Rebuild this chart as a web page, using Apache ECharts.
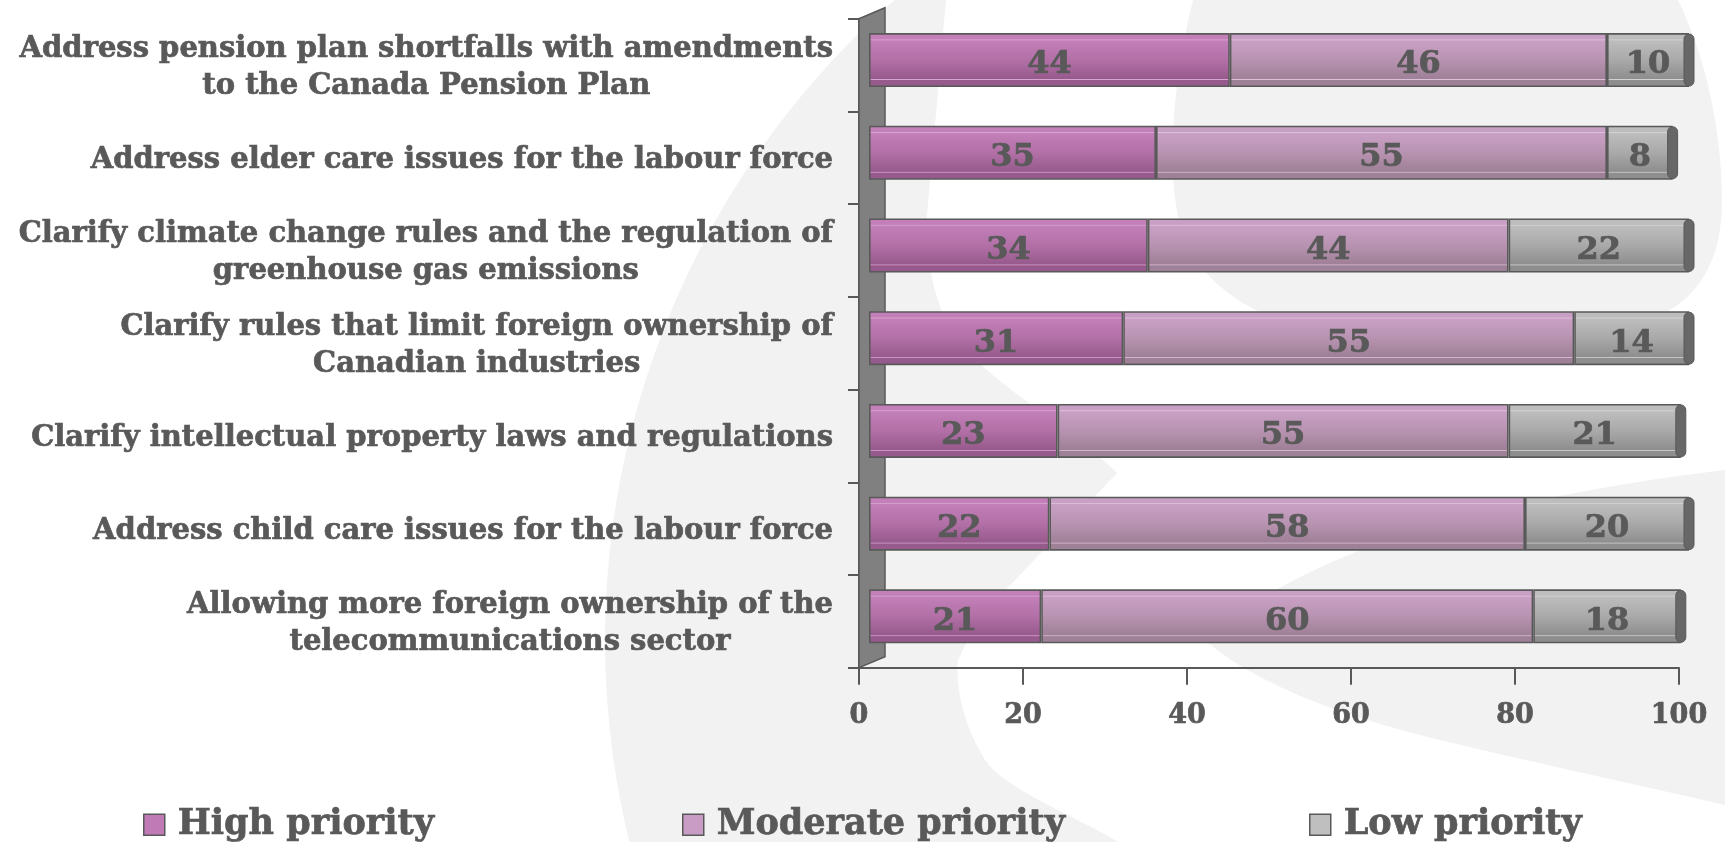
<!DOCTYPE html>
<html>
<head>
<meta charset="utf-8">
<script src="https://cdn.jsdelivr.net/npm/echarts@6/dist/echarts.min.js"></script>
<style>
  html, body { margin: 0; padding: 0; background: #ffffff; }
  #chart { width: 1725px; height: 842px; }
</style>
</head>
<body>
<div id="chart"></div>
<script>
// Survey items (top to bottom) and the share of respondents per priority level (%)
const categories = [
  'Address pension plan shortfalls with amendments\nto the Canada Pension Plan',
  'Address elder care issues for the labour force',
  'Clarify climate change rules and the regulation of\ngreenhouse gas emissions',
  'Clarify rules that limit foreign ownership of\nCanadian industries',
  'Clarify intellectual property laws and regulations',
  'Address child care issues for the labour force',
  'Allowing more foreign ownership of the\ntelecommunications sector'
];
const highPriority     = [44, 35, 34, 31, 23, 22, 21];
const moderatePriority = [46, 55, 44, 55, 55, 58, 60];
const lowPriority      = [10, 8, 22, 14, 21, 20, 18];
const seriesNames = ['High priority', 'Moderate priority', 'Low priority'];

const FONT = "'DejaVu Serif', Georgia, serif";
const INK = '#595959';
// a hairline outline in the text colour gives the heavy bold serif look
const HEAVY = { textBorderColor: INK, textBorderWidth: 0.7 };

// Plot frame (the visible axes) and the small 3D depth offset of the bars
const PLOT = { left: 859, top: 18.7, width: 820, height: 649 };
const BAR_SHIFT = { x: 10, y: 5 };
const WALL = { dx: 26, dy: 11 };

const totals = highPriority.map((v, i) => v + moderatePriority[i] + lowPriority[i]);

function barGradient(top, mid, bottom, hi) {
  return {
    type: 'linear', x: 0, y: 0, x2: 0, y2: 1,
    colorStops: [
      { offset: 0, color: top },
      { offset: 0.11, color: top },
      { offset: 0.125, color: hi },
      { offset: 0.145, color: top },
      { offset: 0.5, color: mid },
      { offset: 0.845, color: bottom },
      { offset: 0.86, color: hi },
      { offset: 0.875, color: bottom },
      { offset: 1, color: bottom }
    ]
  };
}

const fills = [
  barGradient('#c27fb8', '#b270a7', '#975a8c', '#d7a3cf'),
  barGradient('#c9a0c5', '#b893b1', '#9e8097', '#dcbfd8'),
  barGradient('#bdbdbd', '#a9a9a9', '#8e8e8e', '#d2d2d2')
];
const legendColors = ['#c07ab5', '#c89cc4', '#bfbfbf'];

function barSeries(name, values, idx) {
  return {
    name: name,
    type: 'bar',
    stack: 'total',
    xAxisIndex: 1,
    yAxisIndex: 1,
    barWidth: 54,
    data: values,
    itemStyle: { color: fills[idx], borderColor: INK, borderWidth: 1.6 },
    label: Object.assign({
      show: true,
      position: 'inside',
      offset: [0, 5],
      fontFamily: FONT,
      fontWeight: 'bold',
      fontSize: 32,
      color: INK
    }, HEAVY),
    emphasis: { disabled: true }
  };
}

// Decorative background swooshes
const bgPaths = [
  'M894.6,0 A852,852 0 0 0 629.3,842 L1118,842 C1080,818 1005,790 985,760 C965,728 955,690 958,660 L977,620 L1117,473 C1075,430 1000,390 962,345 C935,312 927,270 927,215 L946,0 Z',
  'M1193,0 L1678,0 C1705,55 1722,130 1722,200 C1722,260 1700,300 1650,320 C1560,350 1420,355 1340,338 C1270,325 1215,295 1190,250 C1165,205 1168,100 1193,0 Z',
  'M1205,640 C1250,600 1320,560 1420,530 C1530,498 1640,480 1725,470 L1725,805 C1640,785 1520,760 1420,735 C1330,712 1250,680 1205,640 Z'
];

const x0 = PLOT.left, y0 = PLOT.top, y1 = PLOT.top + PLOT.height;

const legendX = [143, 682, 1309];

const option = {
  backgroundColor: '#ffffff',
  animation: false,
  graphic: [{
    // back wall of the category axis
    type: 'polygon', z: 1, silent: true,
    shape: { points: [[x0, y0], [x0 + WALL.dx, y0 - WALL.dy], [x0 + WALL.dx, y1 - WALL.dy], [x0, y1]] },
    style: { fill: '#808080', stroke: INK, lineWidth: 1.5 }
  }],
  legend: seriesNames.map((n, i) => ({
    data: [{ name: n, itemStyle: { color: legendColors[i], borderColor: INK, borderWidth: 1.5 } }],
    left: legendX[i],
    top: 807,
    padding: 0,
    icon: 'rect',
    itemWidth: 21,
    itemHeight: 21,
    selectedMode: false,
    textStyle: Object.assign({ fontFamily: FONT, fontWeight: 'bold', fontSize: 35, color: INK, padding: [0, 0, 0, 8] }, HEAVY)
  })),
  grid: [
    { left: PLOT.left, top: PLOT.top, width: PLOT.width, height: PLOT.height },
    { left: PLOT.left + BAR_SHIFT.x, top: PLOT.top - BAR_SHIFT.y, width: PLOT.width, height: PLOT.height }
  ],
  xAxis: [
    {
      gridIndex: 0, type: 'value', min: 0, max: 100, interval: 20,
      axisLine: { show: true, lineStyle: { color: INK, width: 2 } },
      axisTick: { show: true, length: 17, lineStyle: { color: INK, width: 2 } },
      axisLabel: Object.assign({ margin: 35, fontFamily: FONT, fontWeight: 'bold', fontSize: 27, color: INK }, HEAVY),
      splitLine: { show: false }
    },
    { gridIndex: 1, type: 'value', min: 0, max: 100, show: false, splitLine: { show: false } }
  ],
  yAxis: [
    {
      gridIndex: 0, type: 'category', data: categories, inverse: true,
      axisLine: { show: true, lineStyle: { color: INK, width: 2 } },
      axisTick: { show: true, length: 11, lineStyle: { color: INK, width: 2 } },
      axisLabel: {
        margin: 26,
        align: 'right',
        padding: [5, 0, 0, 0],
        formatter: v => v.split('\n').map(s => '{c|' + s + '}').join('\n'),
        rich: {
          c: Object.assign({ align: 'center', fontFamily: FONT, fontWeight: 'bold', fontSize: 29, color: INK, lineHeight: 37 }, HEAVY)
        }
      }
    },
    { gridIndex: 1, type: 'category', data: categories, inverse: true, show: false }
  ],
  series: [
    {
      // light grey background swooshes
      type: 'custom',
      coordinateSystem: 'none',
      z: -5,
      silent: true,
      data: [0],
      renderItem: function () {
        return {
          type: 'group',
          children: bgPaths.map(d => ({
            type: 'path',
            shape: { pathData: d },
            style: { fill: '#f2f2f2' }
          }))
        };
      }
    },
    barSeries(seriesNames[0], highPriority, 0),
    barSeries(seriesNames[1], moderatePriority, 1),
    barSeries(seriesNames[2], lowPriority, 2),
    {
      // rounded end cap of each stacked bar
      type: 'custom',
      xAxisIndex: 1,
      yAxisIndex: 1,
      z: 3,
      silent: true,
      data: totals.map((t, i) => [t, i]),
      encode: { x: 0, y: 1 },
      renderItem: function (params, api) {
        const p = api.coord([api.value(0), api.value(1)]);
        return {
          type: 'rect',
          shape: { x: p[0] - 5, y: p[1] - 26, width: 10, height: 52, r: 5 },
          style: { fill: '#676767', stroke: INK, lineWidth: 1 }
        };
      }
    }
  ]
};

const chart = echarts.init(document.getElementById('chart'), null, { renderer: 'canvas' });
chart.setOption(option);
</script>
</body>
</html>
